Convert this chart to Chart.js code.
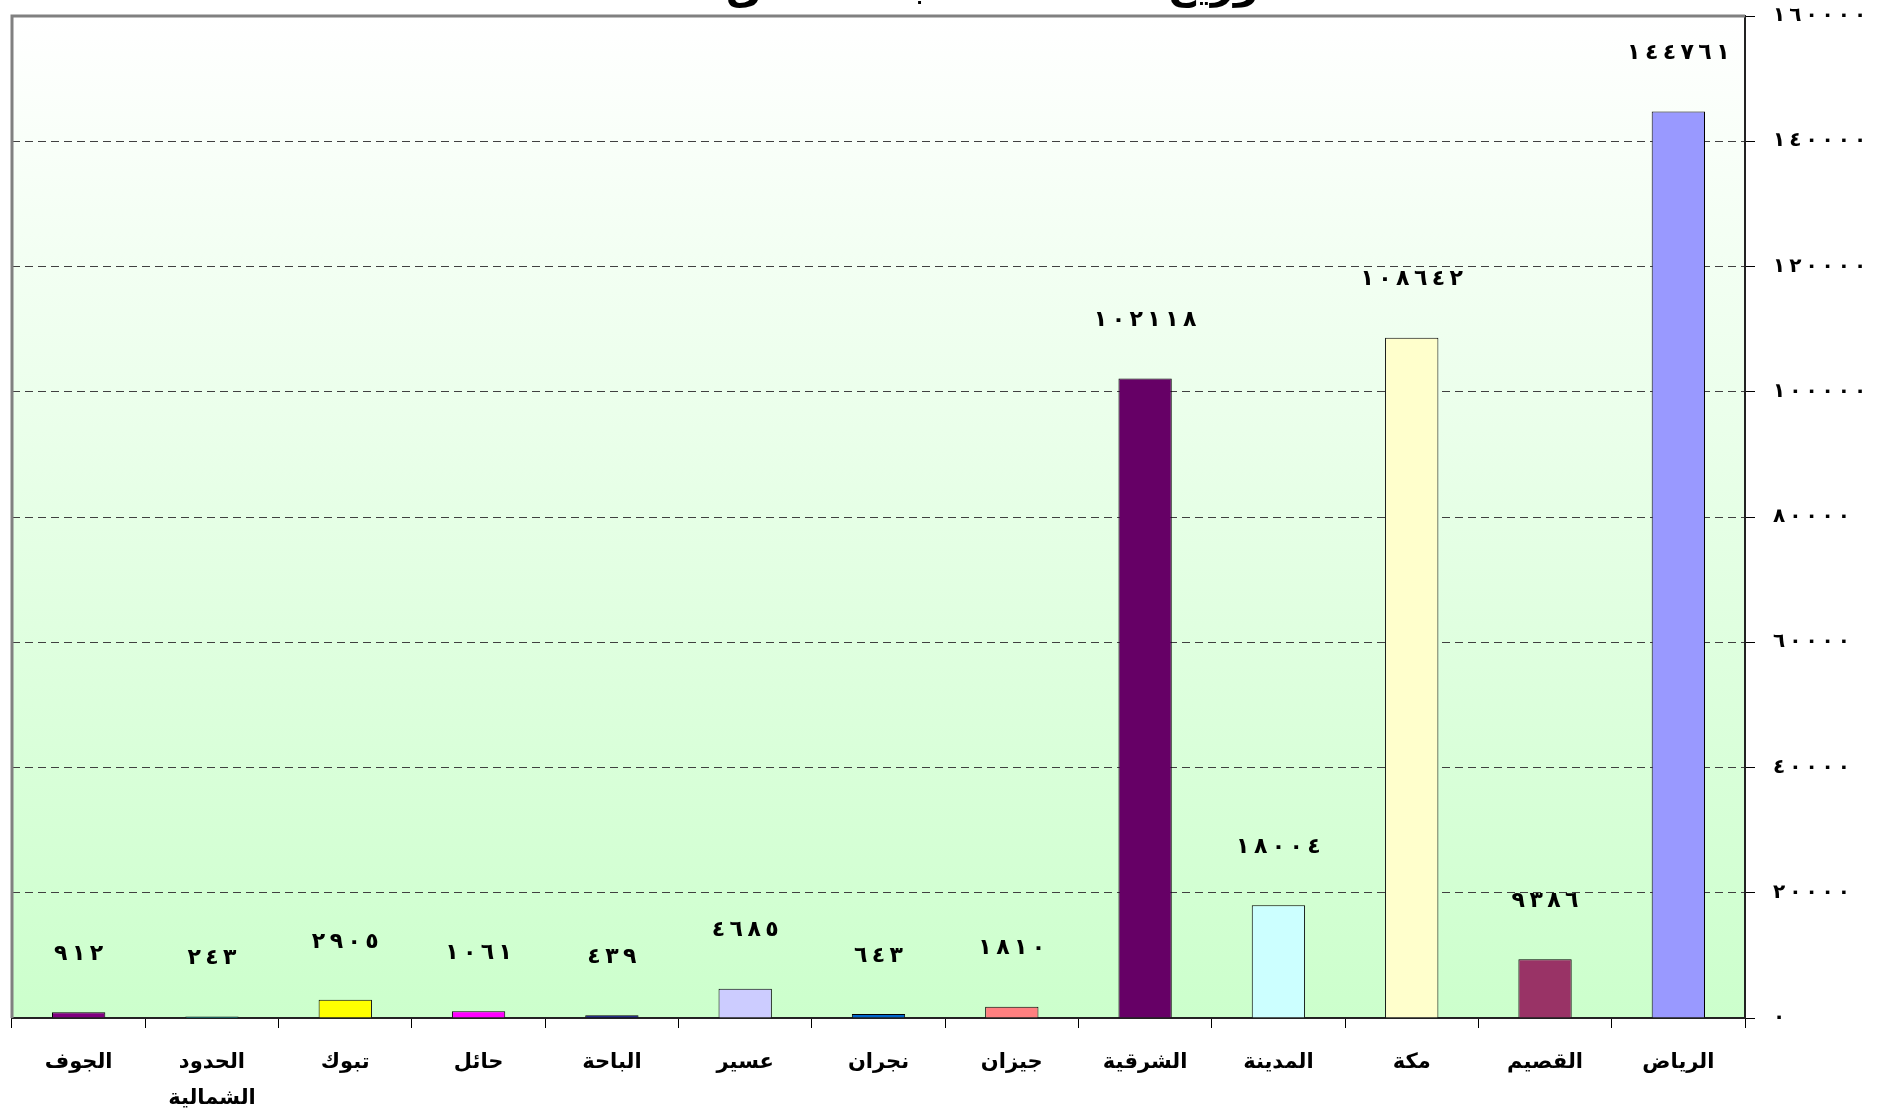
<!DOCTYPE html>
<html lang="ar">
<head>
<meta charset="utf-8">
<script src="https://cdn.jsdelivr.net/npm/chart.js@4/dist/chart.umd.min.js"></script>
<style>
  html, body { margin: 0; padding: 0; background: #fff; }
  #wrap { width: 1886px; height: 1114px; }
</style>
</head>
<body>
<div id="wrap"><canvas id="chart"></canvas></div>
<script>
// regions, right to left as in the picture
const categories = ['الرياض', 'القصيم', 'مكة', 'المدينة', 'الشرقية', 'جيزان', 'نجران', 'عسير', 'الباحة', 'حائل', 'تبوك', ['الحدود', 'الشمالية'], 'الجوف'];
const values = [144761, 9386, 108642, 18004, 102118, 1810, 643, 4685, 439, 1061, 2905, 243, 912];
const barColors = ['#9999FF', '#993366', '#FFFFCC', '#CCFFFF', '#660066', '#FF8080', '#0066CC', '#CCCCFF', '#000080', '#FF00FF', '#FFFF00', '#00FFFF', '#800080'];
const yMax = 160000;
const yStep = 20000;
const titleText = 'توزيع الأعداد حسب المناطق';

const AR_FONT = '"DejaVu Sans", sans-serif';

// western digits -> arabic-indic, spaced out a little
function arNum(n) {
  const digits = String(n).replace(/\d/g, d => '٠١٢٣٤٥٦٧٨٩'[d]);
  return digits.split('').join('\u200E\u2009\u200E');
}

const backdrop = {
  id: 'backdrop',
  beforeDraw(chart) {
    const { ctx, chartArea: a } = chart;
    ctx.save();
    ctx.fillStyle = '#fff';
    ctx.fillRect(0, 0, chart.width, chart.height);
    const g = ctx.createLinearGradient(0, a.top, 0, a.bottom);
    g.addColorStop(0, '#FFFFFF');
    g.addColorStop(1, '#CCFFCC');
    ctx.fillStyle = g;
    ctx.fillRect(a.left, a.top, a.right - a.left, a.bottom - a.top);
    // title sits mostly above the page
    ctx.fillStyle = '#000';
    ctx.font = 'bold 40px ' + AR_FONT;
    ctx.textAlign = 'center';
    ctx.textBaseline = 'alphabetic';
    ctx.fillText(titleText, 1000, -2);
    ctx.restore();
  },
  afterDraw(chart) {
    const { ctx, chartArea: a } = chart;
    ctx.save();
    ctx.strokeStyle = '#808080';
    ctx.lineWidth = 3;
    ctx.beginPath();
    ctx.moveTo(a.left, a.bottom);
    ctx.lineTo(a.left, a.top);
    ctx.lineTo(a.right, a.top);
    ctx.stroke();
    ctx.restore();
  }
};

const valueLabels = {
  id: 'valueLabels',
  afterDatasetsDraw(chart) {
    const { ctx } = chart;
    const meta = chart.getDatasetMeta(0);
    ctx.save();
    ctx.fillStyle = '#000';
    ctx.font = 'bold 22px ' + AR_FONT;
    ctx.textAlign = 'center';
    ctx.textBaseline = 'middle';
    meta.data.forEach((bar, i) => {
      ctx.fillText(arNum(values[i]), bar.x, bar.y - 58);
    });
    ctx.restore();
  }
};

new Chart(document.getElementById('chart'), {
  type: 'bar',
  data: {
    labels: categories,
    datasets: [{
      data: values,
      backgroundColor: barColors,
      borderColor: '#000',
      borderWidth: 1,
      categoryPercentage: 1,
      barPercentage: 0.4
    }]
  },
  options: {
    responsive: true,
    maintainAspectRatio: false,
    animation: false,
    layout: { padding: { top: 16, left: 12, right: 0, bottom: 0 } },
    plugins: {
      legend: { display: false },
      tooltip: { enabled: false }
    },
    scales: {
      x: {
        reverse: true,
        grid: {
          offset: true,
          drawOnChartArea: false,
          drawTicks: true,
          tickLength: 10,
          tickColor: '#000',
          tickWidth: 1
        },
        border: { display: true, color: '#222', width: 2 },
        ticks: {
          autoSkip: false,
          maxRotation: 0,
          color: '#000',
          padding: 17,
          font: { family: AR_FONT, weight: 'bold', size: 21, lineHeight: 1.7 }
        },
        afterFit(scale) {
          scale.height = 96;
          scale.paddingLeft = 0;
          scale.paddingRight = 0;
        }
      },
      y: {
        position: 'right',
        min: 0,
        max: yMax,
        grid: {
          color: c => (c.tick && (c.tick.value === 0 || c.tick.value === yMax)) ? 'rgba(0,0,0,0)' : '#404040',
          lineWidth: 1,
          drawTicks: true,
          tickLength: 10,
          tickColor: '#000',
          tickBorderDash: []
        },
        border: { display: true, color: '#222', width: 2, dash: [8, 5] },
        ticks: {
          stepSize: yStep,
          color: '#000',
          padding: 18,
          font: { family: AR_FONT, weight: 'bold', size: 20 },
          callback: v => arNum(v)
        },
        afterFit(scale) {
          scale.width = 141;
          scale.paddingTop = 0;
          scale.paddingBottom = 0;
        }
      }
    }
  },
  plugins: [backdrop, valueLabels]
});
</script>
</body>
</html>
